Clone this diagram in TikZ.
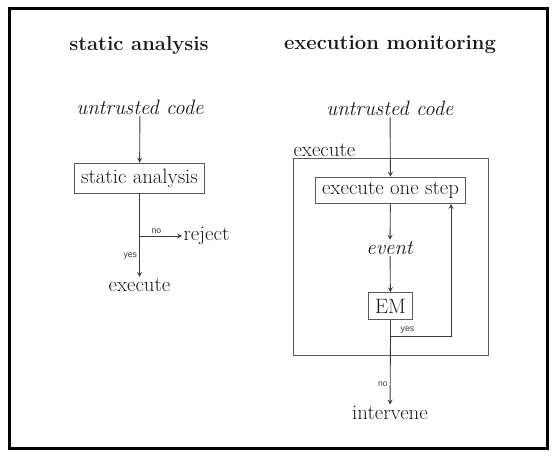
\documentclass[tikz,border=0pt]{standalone}
\usepackage{fontspec}
\newfontfamily\labelfont{Liberation Sans}
\usetikzlibrary{arrows.meta,positioning,calc}
\usepackage{xcolor}
\definecolor{Ink}{HTML}{1A1A1A}
\definecolor{Wire}{HTML}{3C3C3C}
\definecolor{Edge}{HTML}{5A5A5A}

\tikzset{
  heading/.style={font=\fontsize{15.2}{17}\selectfont\bfseries,text=Ink},
  plain/.style={font=\fontsize{15.6}{17}\selectfont,text=Ink,inner sep=1pt},
  boxed/.style={draw=Edge,line width=0.65pt,inner xsep=4.8pt,minimum height=20pt,font=\fontsize{15.6}{17}\selectfont,text=Ink},
  wire/.style={Wire,line width=0.65pt},
  lbl/.style={font=\labelfont\fontsize{6.5}{7}\selectfont,text=Ink!85,inner sep=1.5pt}
}

\begin{document}
\begin{tikzpicture}[x=0.75pt,y=-0.75pt,>=stealth]
\useasboundingbox (0,0) rectangle (557,456);
\draw[black,line width=2.3pt] (9.5,8.5) rectangle (547.5,448.5);
% headings
\node[heading] (hstatic) at (139,45) {static analysis};
\node[heading] (hmonitor) at (390,45) {execution monitoring};
% left: static analysis
\node[plain] (codeA) at (140,107) {\textit{untrusted code}};
\node[boxed,minimum height=22.5pt] (analysis) at (139.5,178) {static analysis};
\coordinate (split) at (139.5,236);
\node[plain,anchor=west] (reject) at (182,236) {reject};
\node[plain] (runA) at (139.5,285) {execute};
\draw[wire,->] (codeA) -- (analysis);
\draw[wire] (analysis) -- (split);
\draw[wire,->] (split) -- node[lbl,above,pos=0.4] {no} (reject);
\draw[wire,->] (split) -- node[lbl,left] {yes} (runA);
% right: execution monitoring
\node[plain] (codeB) at (390,108) {\textit{untrusted code}};
\node[draw=Edge,line width=0.65pt,minimum width=146.25pt,minimum height=147.75pt] (loop) at (390.5,256.5) {};
\node[plain,anchor=south west,inner sep=0.5pt] (looplbl) at (loop.north west) {execute};
\node[boxed] (step) at (390.5,190.5) {execute one step};
\node[plain] (event) at (390,248) {\textit{event}};
\node[boxed] (em) at (390.5,306) {EM};
\coordinate (turn) at (390.5,336);
\coordinate (back) at (451,204);
\node[plain] (stop) at (390,413) {intervene};
\draw[wire,->] (codeB) -- (step);
\draw[wire,->] (step) -- (event);
\draw[wire,->] (event) -- (em);
\draw[wire] (em) -- (turn);
\draw[wire,->] (turn) -| node[lbl,above,pos=0.14] {yes} (back);
\draw[wire,->] (turn) -- node[lbl,left,pos=0.7] {no} (stop);
\end{tikzpicture}
\end{document}
